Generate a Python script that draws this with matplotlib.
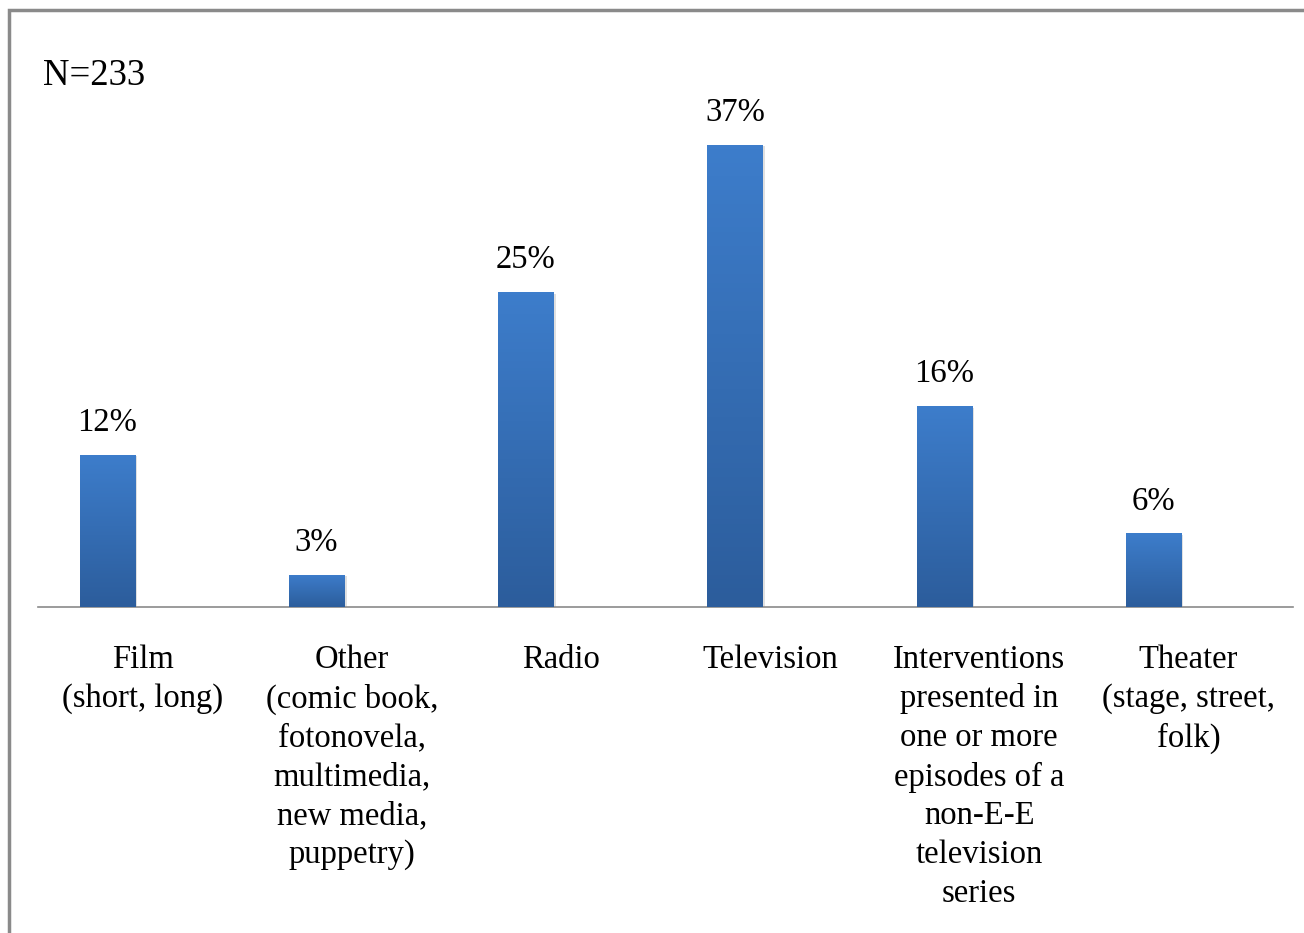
import numpy as np
import matplotlib
matplotlib.use("Agg")
import matplotlib.pyplot as plt
from matplotlib.colors import LinearSegmentedColormap
from matplotlib.patches import Rectangle

categories = [
    "Film\n(short, long)",
    "Other\n(comic book,\nfotonovela,\nmultimedia,\nnew media,\npuppetry)",
    "Radio",
    "Television",
    "Interventions\npresented in\none or more\nepisodes of a\nnon-E-E\ntelevision\nseries",
    "Theater\n(stage, street,\nfolk)",
]
values = [12.2, 2.6, 25.2, 37.0, 16.1, 5.9]
n_label = "N=233"

plt.rcParams["font.family"] = ["Liberation Serif", "DejaVu Serif"]

fig = plt.figure(figsize=(13.04, 9.33), dpi=100)
W, H = 1304, 933
ax = fig.add_axes([38 / W, (H - 607) / H, (1293 - 38) / W, 500 / H])

grad = LinearSegmentedColormap.from_list("g", ["#2c5d9c", "#3d7dcb"])
x = np.arange(len(values))
bar_off = -0.168
width = 0.263

bars = ax.bar(x + bar_off, values, width=width, color="none", zorder=3)
for b, v in zip(bars, values):
    bx, bw = b.get_x(), b.get_width()
    # soft shadow
    ax.add_patch(Rectangle((bx + 0.012, -0.15), bw, v, color="#000000",
                           alpha=0.12, lw=0, zorder=2))
    img = ax.imshow(np.linspace(0, 1, 100).reshape(-1, 1), cmap=grad,
                    origin="lower", extent=[bx, bx + bw, 0, v],
                    aspect="auto", zorder=3)
    img.set_clip_path(b)
    ax.annotate(f"{v:.0f}%", (bx + bw / 2, v), xytext=(0, 12),
                textcoords="offset points", ha="center", va="bottom",
                fontsize=23.5)

ax.set_xlim(-0.5, len(values) - 0.5)
ax.set_ylim(0, 40)
ax.set_xticks(x)
ax.set_xticklabels(categories, fontsize=23.5, linespacing=1.35)
ax.tick_params(axis="x", length=0, pad=27)
ax.set_yticks([])
for s in ["top", "right", "left"]:
    ax.spines[s].set_visible(False)
ax.spines["bottom"].set_color("#8a8a8a")
ax.spines["bottom"].set_linewidth(1.2)

fig.text(43 / W, 1 - 85 / H, n_label, fontsize=26.5, ha="left", va="baseline")

# outer frame
fig.add_artist(Rectangle((8.5 / W, -0.1), 2, 1 - 9.5 / H + 0.1,
                         transform=fig.transFigure, fill=False,
                         ec="#8a8a8a", lw=2.5))

fig.savefig("out.png", dpi=100)
